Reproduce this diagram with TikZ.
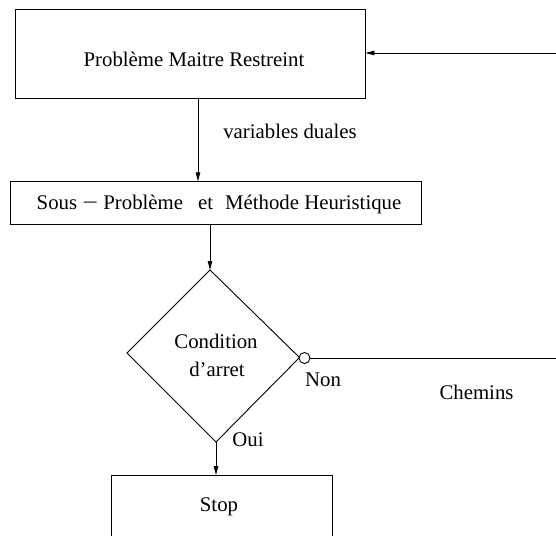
\documentclass[tikz,border=0pt]{standalone}
\usepackage{fontspec}
\usepackage{graphicx}
\setmainfont{Liberation Serif}
\usetikzlibrary{arrows.meta}
\tikzset{
  box/.style={draw, line width=0.9pt, inner sep=0pt, align=center},
  lbl/.style={inner sep=0pt, font=\fontsize{20.8}{25}\selectfont},
  arr/.style={line width=0.9pt, -{Triangle[length=9pt,width=4.5pt]}},
  ln/.style={line width=0.9pt},
}
\begin{document}
\begin{tikzpicture}[x=1pt,y=-1pt, font=\fontsize{20.8}{25}\selectfont]
\useasboundingbox (0,0) rectangle (556,535);
\clip (0,0) rectangle (556,535);
% boxes
\node[box, minimum width=350pt, minimum height=89pt] (top) at (190,53.5) {};
\node[lbl] (toptxt) at (194,59) {Problème Maitre Restreint};
\node[box, minimum width=411pt, minimum height=42.5pt] (sub) at (216.2,203) {};
\node[lbl] (subtxt) at (219,204) {Sous \scalebox{1.35}[1]{−} Problème\hspace{15pt}et\hspace{12pt}Méthode Heuristique};
\node[box, minimum width=221pt, minimum height=120pt, anchor=north west] (stop) at (111,475) {};
\node[lbl] (stoptxt) at (219,507) {Stop};
% diamond
\coordinate (dT) at (210,270);
\coordinate (dR) at (299.5,357.5);
\coordinate (dB) at (216,442);
\coordinate (dL) at (127,353);
\draw[ln] (dT) -- (dR) -- (dB) -- (dL) -- cycle;
\node[lbl] (cond) at (216,341) {Condition};
\node[lbl] (arret) at (217,369) {d’arret};
\node[draw, circle, line width=0.9pt, minimum size=11pt, inner sep=0pt, fill=white] (nc) at (304.5,358) {};
% connectors
\coordinate (x198) at (198,0);
\coordinate (x210) at (210,0);
\coordinate (x216) at (216,0);
\coordinate (eIn) at (556,53);
\coordinate (eOut) at (556,358);
\draw[arr] (top.south -| x198) -- (sub.north -| x198);
\draw[arr] (sub.south -| x210) -- (dT);
\draw[arr] (dB) -- (stop.north -| x216);
\draw[arr] (eIn) -- (top.east |- eIn);
\draw[ln] (nc.east) -- (eOut);
% labels
\node[lbl] (vd) at (290,131) {variables duales};
\node[lbl] (non) at (323,380) {Non};
\node[lbl] (chem) at (476.5,392) {Chemins};
\node[lbl] (oui) at (248,440) {Oui};
\end{tikzpicture}
\end{document}
